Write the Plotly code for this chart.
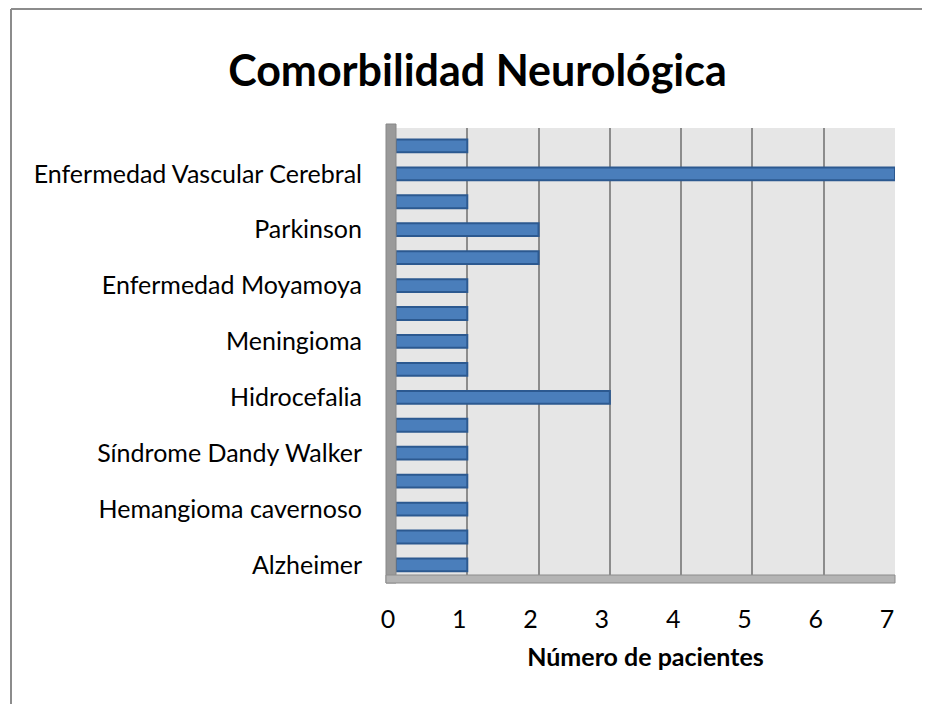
import plotly.graph_objects as go

# bottom to top; only every other row carries a visible label in the source
labels = ["Alzheimer", "", "Hemangioma cavernoso", "", "Síndrome Dandy Walker", "",
          "Hidrocefalia", "", "Meningioma", "", "Enfermedad Moyamoya", "",
          "Parkinson", "", "Enfermedad Vascular Cerebral", ""]
pacientes = [1, 1, 1, 1, 1, 1, 3, 1, 1, 1, 1, 2, 2, 1, 7, 1]
x_ticks = [0, 1, 2, 3, 4, 5, 6, 7]

rows = list(range(len(pacientes)))
shown = [i for i, t in enumerate(labels) if t]

FONT = "Lato, Calibri, Arial, sans-serif"

# the page adds an 8px body margin, so the figure is sized to fill the rest
W, H = 922, 696
L, T = 388, 120
PW, PH = 499, 447
R, B = W - L - PW, H - T - PH

fig = go.Figure()
fig.add_trace(go.Bar(
    x=pacientes,
    y=rows,
    orientation="h",
    width=0.46,
    marker=dict(color="#4a7ebb", line=dict(color="#2c5990", width=2)),
    hovertext=labels,
))

# left wall and floor of the pseudo-3D plot box
fig.add_shape(type="rect", xref="paper", yref="paper",
              x0=-10 / PW, x1=0, y0=-8 / PH, y1=1.0 + 4 / PH,
              fillcolor="#9a9a9a", line=dict(color="#888888", width=1), layer="above")
fig.add_shape(type="rect", xref="paper", yref="paper",
              x0=-10 / PW, x1=1.0, y0=-8 / PH, y1=0,
              fillcolor="#b4b4b4", line=dict(color="#8c8c8c", width=1), layer="above")
# outer chart frame: only the left and top edges show in the picture
fx = (3 - L) / PW
fy = 1 + (T - 1) / PH
fig.add_shape(type="line", xref="paper", yref="paper",
              x0=fx, x1=fx, y0=-B / PH, y1=fy, line=dict(color="#8c8c8c", width=2))
fig.add_shape(type="line", xref="paper", yref="paper",
              x0=fx, x1=1 + R / PW, y0=fy, y1=fy, line=dict(color="#8c8c8c", width=2))

fig.update_layout(
    width=W,
    height=H,
    margin=dict(l=L, r=R, t=T, b=B),
    paper_bgcolor="white",
    plot_bgcolor="#e6e6e6",
    showlegend=False,
    font=dict(family=FONT, size=25, color="black"),
    title=dict(text="<b>Comorbilidad Neurológica</b>", x=469.5 / W, xanchor="center",
               y=1 - 63 / H, yanchor="middle", yref="container",
               font=dict(family=FONT, size=43, color="black")),
)
fig.update_xaxes(
    range=[0, 7],
    tickvals=x_ticks,
    showgrid=True,
    gridcolor="#8c8c8c",
    gridwidth=2,
    zeroline=False,
    showline=False,
    ticks="outside",
    ticklen=22,
    tickcolor="rgba(0,0,0,0)",
    ticklabelshift=-8,
    tickfont=dict(size=25),
    title=dict(text="<b>Número de pacientes</b>", font=dict(size=25), standoff=16),
)
fig.update_yaxes(
    range=[-0.36, 15.64],
    tickvals=shown,
    ticktext=[labels[i] for i in shown],
    showgrid=False,
    zeroline=False,
    showline=False,
    ticks="outside",
    ticklen=28,
    tickcolor="rgba(0,0,0,0)",
    tickfont=dict(size=25),
)

fig.write_html("out.html")
